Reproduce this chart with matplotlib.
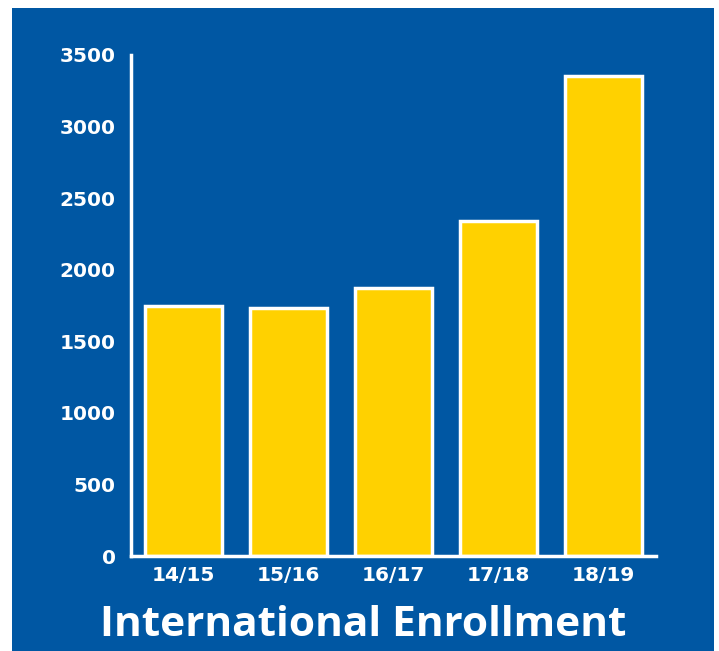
import matplotlib.pyplot as plt
from matplotlib.patches import Rectangle

years = ["14/15", "15/16", "16/17", "17/18", "18/19"]
enrollment = [1750, 1735, 1875, 2340, 3350]
yticks = [0, 500, 1000, 1500, 2000, 2500, 3000, 3500]

blue = "#0057A3"
yellow = "#FFD100"

plt.rcParams['font.family'] = ['Open Sans', 'DejaVu Sans']

W, H = 719, 651
fig = plt.figure(figsize=(W / 100, H / 100), dpi=100)
fig.patch.set_facecolor("white")
# blue panel behind everything
fig.patches.append(Rectangle((12 / W, 0), 702 / W, 643 / H, transform=fig.transFigure,
                             facecolor=blue, edgecolor="none", zorder=-10))

ax = fig.add_axes([131 / W, 95 / H, 525 / W, 501 / H])
ax.set_facecolor("none")
ax.bar(range(len(years)), enrollment, width=0.74, color=yellow,
       edgecolor="white", linewidth=2.5)

ax.set_xlim(-0.5, 4.5)
ax.set_ylim(0, 3500)
ax.set_yticks(yticks)
ax.set_yticklabels([str(t) for t in yticks])
ax.set_xticks(range(len(years)))
ax.set_xticklabels(years)
ax.tick_params(axis="both", length=0, colors="white", labelsize=14.5)
ax.tick_params(axis="y", pad=11)
ax.tick_params(axis="x", pad=7)
for lab in ax.get_xticklabels() + ax.get_yticklabels():
    lab.set_fontweight("bold")
    lab.set_family("DejaVu Sans")

for side in ["top", "right"]:
    ax.spines[side].set_visible(False)
for side in ["left", "bottom"]:
    ax.spines[side].set_color("white")
    ax.spines[side].set_linewidth(2.5)

fig.text(363 / W, 1 - 625 / H, "International Enrollment", color="white",
         fontsize=30.5, fontweight="bold", ha="center", va="center")

fig.savefig("out.png", dpi=100)
